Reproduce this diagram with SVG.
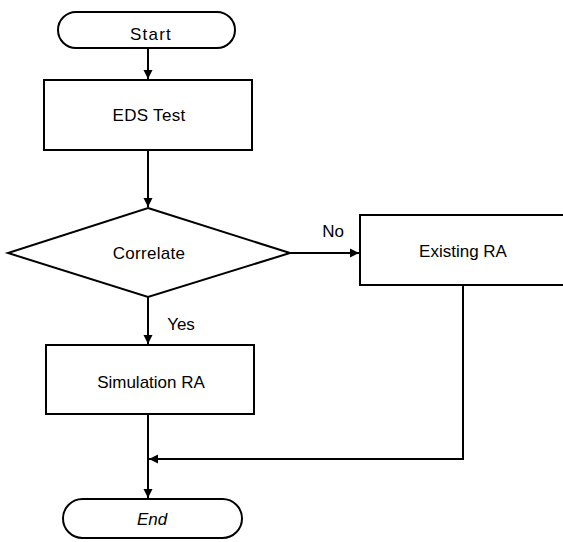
<svg xmlns="http://www.w3.org/2000/svg" width="563" height="542" viewBox="0 0 563 542">
<style>
.s{fill:#fff;stroke:#000;stroke-width:2}
.t{font-family:"Liberation Sans",Arial,sans-serif;font-size:17px;fill:#000;text-anchor:middle}
.c{fill:none;stroke:#000;stroke-width:2}
</style>
<defs>
<marker id="ah" markerWidth="10" markerHeight="10" refX="9" refY="5" orient="auto" markerUnits="userSpaceOnUse">
<path d="M0,0.5 L9,5 L0,9.5 Z" fill="#000"/>
</marker>
</defs>
<rect width="563" height="542" fill="#fff"/>
<g id="connectors">
<path class="c" d="M148,48 V79" marker-end="url(#ah)"/>
<path class="c" d="M148,150 V207" marker-end="url(#ah)"/>
<path class="c" d="M290,253 H359" marker-end="url(#ah)"/>
<path class="c" d="M148,297 V344" marker-end="url(#ah)"/>
<path class="c" d="M148,414 V498" marker-end="url(#ah)"/>
<path class="c" d="M463,285 V459 H149" marker-end="url(#ah)"/>
<text class="t" x="333" y="237">No</text>
<text class="t" x="181" y="330">Yes</text>
</g>
<g id="start">
<rect class="s" x="58" y="12" width="177" height="36" rx="18"/>
<text class="t" x="151" y="40" font-size="18" letter-spacing="1.2">Start</text>
</g>
<g id="eds">
<rect class="s" x="44" y="80" width="208" height="70"/>
<text class="t" x="149" y="121" letter-spacing="0.3">EDS Test</text>
</g>
<g id="correlate">
<polygon class="s" points="148,208 290,253 148,297 8,253"/>
<text class="t" x="149" y="259" letter-spacing="0.3">Correlate</text>
</g>
<g id="existing">
<rect class="s" x="360" y="215" width="215" height="70"/>
<text class="t" x="463" y="257">Existing RA</text>
</g>
<g id="simulation">
<rect class="s" x="46" y="345" width="208" height="69"/>
<text class="t" x="151" y="388">Simulation RA</text>
</g>
<g id="end">
<rect class="s" x="63" y="499" width="179" height="39" rx="19.5"/>
<text class="t" x="152" y="525" font-style="italic">End</text>
</g>
</svg>
